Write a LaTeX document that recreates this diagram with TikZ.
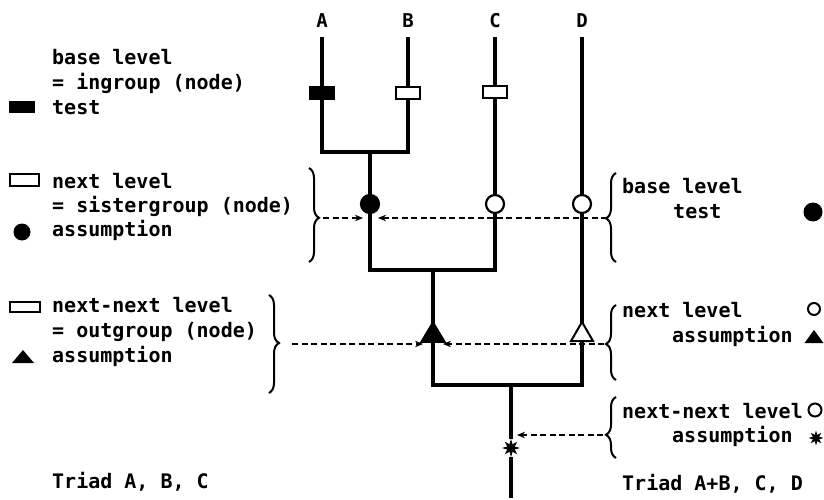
\documentclass[tikz,border=0pt]{standalone}
\usepackage{fontspec}
\newfontfamily\tw{DejaVu Sans Mono Bold}
\usetikzlibrary{shapes.geometric,decorations.pathreplacing,arrows.meta}
\begin{document}
\begin{tikzpicture}[x=1pt,y=-1pt,
  tree/.style={line width=3.4pt},
  txt/.style={font=\tw\fontsize{20}{24}\selectfont, anchor=base west, inner sep=0pt},
  lbl/.style={font=\tw\fontsize{19}{22}\selectfont, anchor=base, inner sep=0pt},
  bar/.style={draw, line width=2.2pt, minimum width=24pt, minimum height=12pt, inner sep=0pt, fill=white},
  dot/.style={circle, draw, line width=2.2pt, minimum size=18pt, inner sep=0pt, fill=white},
  burst/.style={star, star points=8, star point ratio=2.2, fill=black, draw=black, line width=0.8pt, minimum size=15pt, inner sep=0pt},
  darrow/.style={line width=1.7pt, dash pattern=on 6pt off 3.5pt, -{Stealth[length=8pt,width=6.5pt]}},
  cbrace/.style={decorate, decoration={brace, amplitude=10pt, aspect=#1}, line width=2pt},
  cbrace/.default=0.5
]
\useasboundingbox (0,0) rectangle (824,500);

% ---------- left legend ----------
\node[txt] (l1a) at (52,65) {base level};
\node[txt] (l1b) at (52,90) {= ingroup (node)};
\node[txt] (l1c) at (52,115) {test};
\node[draw, fill=black, line width=1pt, minimum width=25pt, minimum height=11pt, inner sep=0pt] (lsym1) at (21.5,107.5) {};

\node[txt] (l2a) at (52,188) {next level};
\node[txt] (l2b) at (52,212) {= sistergroup (node)};
\node[txt] (l2c) at (52,236) {assumption};
\node[draw, line width=2pt, minimum width=29pt, minimum height=12pt, inner sep=0pt] (lsym2) at (24,180) {};
\node[circle, fill=black, minimum size=17pt, inner sep=0pt] (lsym3) at (22,232) {};

\node[txt] (l3a) at (52,312) {next-next level};
\node[txt] (l3b) at (52,337) {= outgroup (node)};
\node[txt] (l3c) at (52,362) {assumption};
\node[draw, line width=2pt, minimum width=30pt, minimum height=10pt, inner sep=0pt] (lsym4) at (25,307) {};
\coordinate (lsym5) at (23,358);
\fill (lsym5) +(-11,5) -- +(0,-8) -- +(11,5) -- cycle;

\node[txt] (ltriad) at (52,488) {Triad A, B, C};

% ---------- right legend ----------
\node[txt] (r1a) at (622,193) {base level};
\node[txt] (r1b) at (673,218) {test};
\node[circle, fill=black, minimum size=19pt, inner sep=0pt] (rsym1) at (813,212) {};

\node[txt] (r2a) at (622,317) {next level};
\node[txt] (r2b) at (672,342) {assumption};
\node[circle, draw, line width=2pt, minimum size=12pt, inner sep=0pt] (rsym2) at (814,309) {};
\coordinate (rsym3) at (814,338);
\fill (rsym3) +(-9.5,5) -- +(0,-8) -- +(9.5,5) -- cycle;

\node[txt] (r3a) at (622,418) {next-next level};
\node[txt] (r3b) at (672,442) {assumption};
\node[circle, draw, line width=2pt, minimum size=13pt, inner sep=0pt] (rsym4) at (815,410) {};
\node[burst, minimum size=12pt] (rsym5) at (816,438) {};

\node[txt] (rtriad) at (622,490) {Triad A+B, C, D};

% ---------- tree ----------
\node[lbl] (A) at (322,28) {A};
\node[lbl] (B) at (408,28) {B};
\node[lbl] (C) at (495,28) {C};
\node[lbl] (D) at (582,28) {D};
\coordinate (tA) at (322,37);
\coordinate (tB) at (408,37);
\coordinate (tC) at (495,37);
\coordinate (tD) at (582,37);

\node[bar, fill=black] (rA) at (322,93) {};
\node[bar] (rB) at (408,93) {};
\node[bar] (rC) at (495,92) {};

\coordinate (jA) at (322,152);
\coordinate (jB) at (408,152);
\coordinate (mAB) at (370,152);

\node[dot, fill=black] (cAB) at (370,204) {};
\node[dot] (cC) at (495,204) {};
\node[dot] (cD) at (582,204) {};

\coordinate (jAB) at (370,270);
\coordinate (jC) at (495,270);
\coordinate (mABC) at (433,270);

\coordinate (tri1) at (433,334);
\coordinate (tri2) at (582,334);

\coordinate (k1) at (433,385);
\coordinate (kD) at (582,385);
\coordinate (m2) at (511,385);
\node[burst] (st) at (511,448) {};
\coordinate (bot) at (511,498);

\draw[tree] (tA) -- (rA);
\draw[tree] (tB) -- (rB);
\draw[tree] (tC) -- (rC);
\draw[tree] (tD) -- (cD);
\draw[tree] (rA) -- (jA) -- (jB) -- (rB);
\draw[tree] (mAB) -- (cAB);
\draw[tree] (rC) -- (cC);
\draw[tree] (cAB) -- (jAB) -- (jC) -- (cC);
\draw[tree] (mABC) -- (tri1) -- (k1) -- (kD) -- (cD);
\draw[tree] (m2) -- (st);
\draw[tree] (st) -- (bot);

\filldraw[line width=1.5pt, line join=miter] (tri1) +(-12,8) -- +(0,-12) -- +(12,8) -- cycle;
\filldraw[line width=2pt, line join=miter, fill=white] (tri2) +(-11,7) -- +(0,-12) -- +(11,7) -- cycle;

% ---------- braces ----------
\coordinate (lb1t) at (309,168);
\coordinate (lb1b) at (309,262);
\coordinate (lb2t) at (269,295);
\coordinate (lb2b) at (269,393);
\coordinate (rb1t) at (616,173);
\coordinate (rb1b) at (616,262);
\coordinate (rb2t) at (616,305);
\coordinate (rb2b) at (616,380);
\coordinate (rb3t) at (616,397);
\coordinate (rb3b) at (616,458);

\draw[cbrace=0.53] (lb1t) -- (lb1b);
\draw[cbrace=0.49] (lb2t) -- (lb2b);
\draw[cbrace=0.49] (rb1b) -- (rb1t);
\draw[cbrace=0.48] (rb2b) -- (rb2t);
\draw[cbrace=0.38] (rb3b) -- (rb3t);

% ---------- dashed arrows ----------
\coordinate (d1s) at (323,218);
\coordinate (d1e) at (363,218);
\coordinate (d2s) at (607,218);
\coordinate (d2e) at (378,218);
\coordinate (d3s) at (292,344);
\coordinate (d3e) at (423,344);
\coordinate (d4s) at (604,344);
\coordinate (d4e) at (443,344);
\coordinate (d5s) at (603,435);
\coordinate (d5e) at (517,435);

\draw[darrow] (d1s) -- (d1e);
\draw[darrow] (d2s) -- (d2e);
\draw[darrow] (d3s) -- (d3e);
\draw[darrow] (d4s) -- (d4e);
\draw[darrow] (d5s) -- (d5e);
\end{tikzpicture}
\end{document}
